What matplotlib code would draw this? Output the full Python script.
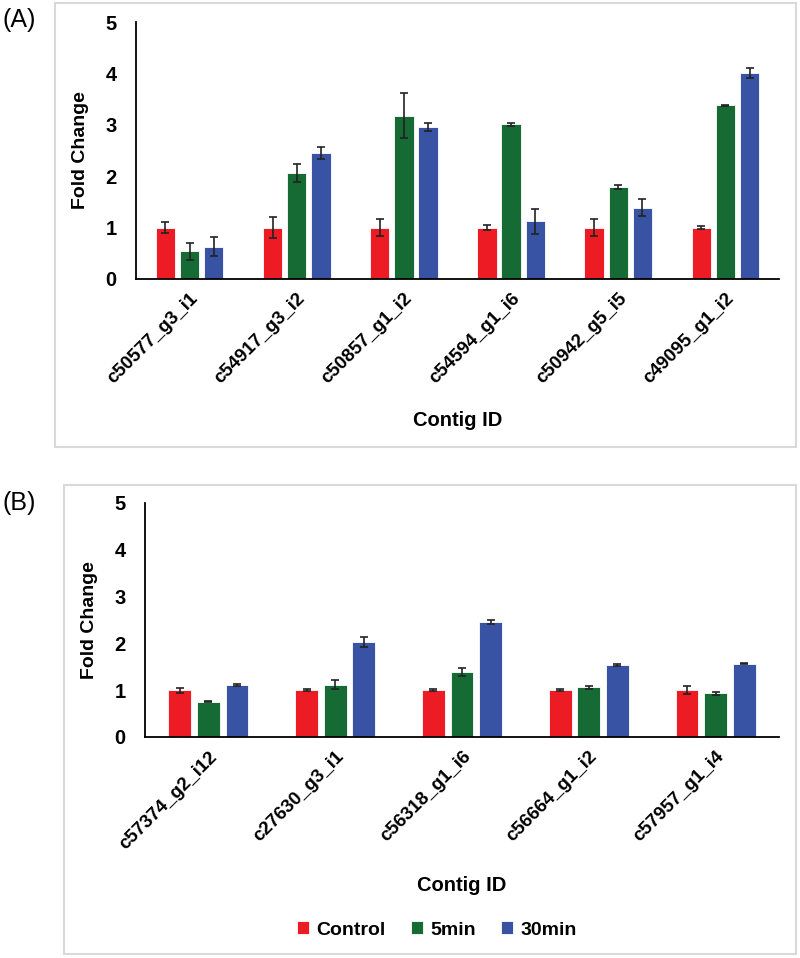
import numpy as np
import matplotlib
matplotlib.use('Agg')
import matplotlib.pyplot as plt
from matplotlib.patches import Rectangle

plt.rcParams['font.family'] = ['Liberation Sans', 'DejaVu Sans']

series = ['Control', '5min', '30min']
colors = ['#ED1C24', '#166B34', '#3953A4']

# panel A
contigs_a = ['c50577_g3_i1', 'c54917_g3_i2', 'c50857_g1_i2', 'c54594_g1_i6', 'c50942_g5_i5', 'c49095_g1_i2']
ctrl_a = [1.0, 1.0, 1.0, 1.0, 1.0, 1.0]
ctrl_a_err = [0.11, 0.21, 0.17, 0.05, 0.17, 0.03]
min5_a = [0.54, 2.06, 3.18, 3.01, 1.79, 3.38]
min5_a_err = [0.17, 0.18, 0.44, 0.03, 0.03, 0.01]
min30_a = [0.63, 2.45, 2.95, 1.12, 1.39, 4.01]
min30_a_err = [0.19, 0.12, 0.08, 0.25, 0.17, 0.09]

# panel B
contigs_b = ['c57374_g2_i12', 'c27630_g3_i1', 'c56318_g1_i6', 'c56664_g1_i2', 'c57957_g1_i4']
ctrl_b = [1.0, 1.0, 1.0, 1.0, 1.0]
ctrl_b_err = [0.05, 0.015, 0.02, 0.015, 0.08]
min5_b = [0.75, 1.12, 1.39, 1.06, 0.93]
min5_b_err = [0.01, 0.10, 0.08, 0.04, 0.04]
min30_b = [1.11, 2.03, 2.46, 1.54, 1.57]
min30_b_err = [0.015, 0.10, 0.05, 0.02, 0.02]

fig = plt.figure(figsize=(8, 9.58), dpi=100)

# light grey panel frames
fig.patches.append(Rectangle((55/800, 1-447/958), 741/800, 444/958, transform=fig.transFigure,
                             fill=False, edgecolor='#D9D9D9', lw=1.5))
fig.patches.append(Rectangle((64/800, 1-954/958), 732/800, 469/958, transform=fig.transFigure,
                             fill=False, edgecolor='#D9D9D9', lw=1.5))


def draw_panel(ax, labels, vals, errs):
    x = np.arange(len(labels))
    w = 0.18
    for i, (v, e) in enumerate(zip(vals, errs)):
        ax.bar(x + (i - 1) * 0.225, v, w, color=colors[i], edgecolor='white', lw=0.6,
               yerr=e, capsize=3, error_kw=dict(ecolor='#222222', elinewidth=1.2, capthick=1.2),
               label=series[i], zorder=2)
    ax.set_xlim(-0.5, len(labels) - 0.5)
    ax.set_ylim(0, 5)
    ax.set_yticks(range(6))
    ax.set_xticks(x)
    ax.set_xticklabels(labels, rotation=45, ha='right', va='top', rotation_mode='anchor',
                       fontsize=13.5, fontweight='bold')
    for t in ax.get_yticklabels():
        t.set_fontsize(14.5)
        t.set_fontweight('bold')
    ax.tick_params(length=0, pad=14)
    ax.tick_params(axis='x', pad=8)
    ax.spines['top'].set_visible(False)
    ax.spines['right'].set_visible(False)
    ax.spines['left'].set_linewidth(1.3)
    ax.spines['bottom'].set_linewidth(1.3)
    ax.set_ylabel('Fold Change', fontsize=14, fontweight='bold', labelpad=12)
    ax.set_xlabel('Contig ID', fontsize=14.5, fontweight='bold', labelpad=17)


ax1 = fig.add_axes([136/800, 1-279/958, 643/800, 257/958])
draw_panel(ax1, contigs_a, [ctrl_a, min5_a, min30_a], [ctrl_a_err, min5_a_err, min30_a_err])

ax2 = fig.add_axes([145/800, 1-737/958, 634/800, 234/958])
draw_panel(ax2, contigs_b, [ctrl_b, min5_b, min30_b], [ctrl_b_err, min5_b_err, min30_b_err])

ax2.legend(loc='center', bbox_to_anchor=(437/800, 1-930/958), bbox_transform=fig.transFigure,
           ncol=3, frameon=False, handlelength=0.6, handleheight=0.6, handletextpad=0.4,
           columnspacing=1.3, prop=dict(size=14, weight='bold'))

fig.text(2/800, 1-20/958, '(A)', fontsize=18, va='center', ha='left')
fig.text(2/800, 1-503/958, '(B)', fontsize=18, va='center', ha='left')

fig.savefig('out.png', dpi=100)
